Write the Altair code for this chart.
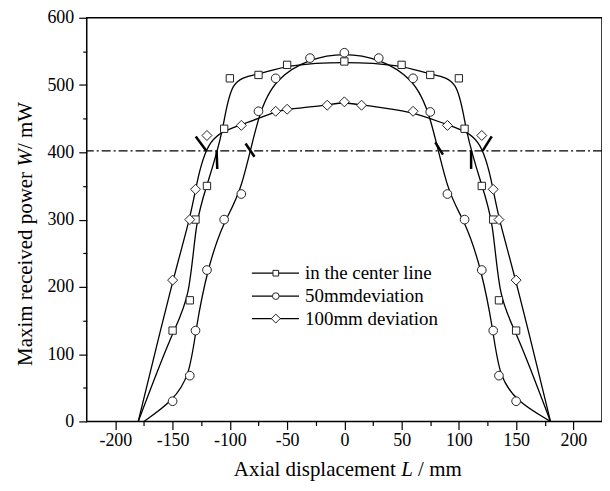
import altair as alt
import pandas as pd

# ---- data ----
L_center = [-180, -150, -135, -130, -120, -105, -100, -75, -50, 0, 50, 75, 100, 105, 120, 130, 135, 150, 180]
W_center = [0, 135, 180, 300, 350, 435, 510, 515, 530, 535, 530, 515, 510, 435, 350, 300, 180, 135, 0]

L_50 = [-175, -150, -135, -130, -120, -105, -90, -75, -60, -30, 0, 30, 60, 75, 90, 105, 120, 130, 135, 150, 180]
W_50 = [0, 30, 68, 135, 225, 300, 338, 461, 510, 540, 548, 540, 510, 460, 338, 300, 225, 135, 68, 30, 0]

L_100 = [-180, -150, -135, -130, -120, -90, -60, -50, -15, 0, 15, 60, 90, 120, 130, 135, 150, 180]
W_100 = [0, 210, 300, 345, 425, 440, 461, 464, 470, 475, 470, 461, 440, 425, 345, 300, 210, 0]

threshold = [402]

# short marks where the curves cross the threshold line
mark_L1 = [-129.8, -111.6, -86.3, 79.4, 110.7, 120.9]
mark_W1 = [423.6, 402.4, 413.2, 414.7, 402.4, 402.4]
mark_L2 = [-120.6, -111.0, -78.5, 86.1, 110.7, 128.7]
mark_W2 = [402.4, 375.3, 393.5, 396.5, 375.3, 423.6]

legend_labels = ["in the center line", "50mmdeviation", "100mm deviation"]
shapes = ["square", "circle", "diamond"]

FONT = "Liberation Serif"

xscale = alt.Scale(domain=[-225, 225], nice=False, zero=False)
yscale = alt.Scale(domain=[0, 600], nice=False)

x_axis = alt.Axis(
    values=list(range(-200, 201, 25)),
    labelExpr="datum.value % 50 === 0 ? '' + datum.value : ''",
    tickSize={"condition": {"test": "datum.value % 50 === 0", "value": 8}, "value": 4},
    title=None, grid=False, labelOverlap=False, domain=False,
    labelFont=FONT, labelFontSize=18, labelColor="black",
    tickColor="black", tickWidth=1.2, labelPadding=2,
)
y_axis = alt.Axis(
    values=list(range(0, 601, 50)),
    labelExpr="datum.value % 100 === 0 ? '' + datum.value : ''",
    tickSize={"condition": {"test": "datum.value % 100 === 0", "value": 8}, "value": 4},
    title=None, grid=False, labelOverlap=False, domain=False,
    labelFont=FONT, labelFontSize=18, labelColor="black",
    tickColor="black", tickWidth=1.2, labelPadding=5,
)

X = alt.X("L:Q", scale=xscale, axis=x_axis)
Y = alt.Y("W:Q", scale=yscale, axis=y_axis)

series = [
    (L_center, W_center, "square", 54),
    (L_50, W_50, "circle", 76),
    (L_100, W_100, "diamond", 100),
]

layers = []

# threshold dash-dot line
layers.append(
    alt.Chart(pd.DataFrame({"W": threshold}))
    .mark_rule(color="black", strokeWidth=1.3, strokeDash=[9, 3, 2, 3])
    .encode(y=Y)
)

# short marks
layers.append(
    alt.Chart(pd.DataFrame({"L": mark_L1, "W": mark_W1, "L2": mark_L2, "W2": mark_W2}))
    .mark_rule(color="black", strokeWidth=2.5)
    .encode(x=X, y=Y, x2="L2:Q", y2="W2:Q")
)

for L, W, shp, sz in series:
    df = pd.DataFrame({"L": L, "W": W})
    layers.append(
        alt.Chart(df).mark_line(color="black", strokeWidth=1.3, interpolate="basis").encode(x=X, y=Y)
    )
for L, W, shp, sz in series:
    df = pd.DataFrame({"L": L, "W": W})
    df = df[df["W"] > 0]
    layers.append(
        alt.Chart(df)
        .mark_point(shape=shp, size=sz, filled=True, fill="white", stroke="#222",
                    strokeWidth=1, opacity=1)
        .encode(x=X, y=Y)
    )

# legend (drawn by hand)
one = pd.DataFrame({"a": [0]})
leg_y = [256.3, 279.3, 301.8]
leg_sizes = [32, 45, 80]
for i, lab in enumerate(legend_labels):
    layers.append(
        alt.Chart(one).mark_rule(color="black", strokeWidth=1.3)
        .encode(x=alt.value(165.7), x2=alt.value(213), y=alt.value(leg_y[i]))
    )
    layers.append(
        alt.Chart(one).mark_point(shape=shapes[i], size=leg_sizes[i], filled=True, fill="white",
                                  stroke="#222", strokeWidth=1, opacity=1)
        .encode(x=alt.value(189.7), y=alt.value(leg_y[i]))
    )
    layers.append(
        alt.Chart(one).mark_text(text=lab, font=FONT, fontSize=19, align="left",
                                 baseline="middle", color="black")
        .encode(x=alt.value(219), y=alt.value(leg_y[i]))
    )

# axis titles (with italic symbols)
TS = 21
xt_y = 460
layers.append(alt.Chart(one).mark_text(text="Axial displacement", font=FONT, fontSize=TS, align="left",
                                       baseline="alphabetic", color="black")
              .encode(x=alt.value(147.6), y=alt.value(xt_y)))
layers.append(alt.Chart(one).mark_text(text="L", font=FONT, fontSize=TS, fontStyle="italic", align="left",
                                       baseline="alphabetic", color="black")
              .encode(x=alt.value(315.6), y=alt.value(xt_y)))
layers.append(alt.Chart(one).mark_text(text="/ mm", font=FONT, fontSize=TS, align="left",
                                       baseline="alphabetic", color="black")
              .encode(x=alt.value(332.5), y=alt.value(xt_y)))

yt_x = -55
layers.append(alt.Chart(one).mark_text(text="Maxim received power", font=FONT, fontSize=TS, align="left",
                                       baseline="alphabetic", angle=270, color="black")
              .encode(x=alt.value(yt_x), y=alt.value(349.3)))
layers.append(alt.Chart(one).mark_text(text="W", font=FONT, fontSize=TS, fontStyle="italic", align="left",
                                       baseline="alphabetic", angle=270, color="black")
              .encode(x=alt.value(yt_x), y=alt.value(149.25)))
layers.append(alt.Chart(one).mark_text(text="/ mW", font=FONT, fontSize=TS, align="left",
                                       baseline="alphabetic", angle=270, color="black")
              .encode(x=alt.value(yt_x), y=alt.value(131.75)))

chart = (
    alt.layer(*layers)
    .properties(
        width=517, height=405,
        autosize=alt.AutoSizeParams(type="none"),
        padding={"left": 79, "top": 9, "right": 0, "bottom": 60},
        background="white",
    )
    .configure_view(stroke="black", strokeWidth=1.5)
)

chart.save("out.html", embed_options={"renderer": "svg", "actions": False})
